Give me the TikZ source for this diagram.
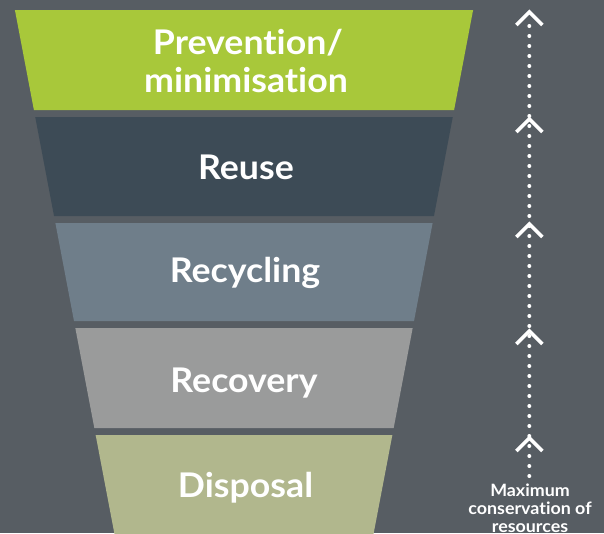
\documentclass[tikz,border=0pt]{standalone}
\usepackage{fontspec}
\setmainfont{Lato}[FakeStretch=1.05, Ligatures=CommonOff]
\definecolor{bgc}{HTML}{575D63}
\definecolor{c1}{HTML}{A8C83A}
\definecolor{c2}{HTML}{3D4B56}
\definecolor{c3}{HTML}{6F7E8A}
\definecolor{c4}{HTML}{9A9B9B}
\definecolor{c5}{HTML}{B1B78D}
\tikzset{
  band/.style={fill=#1, draw=none},
  lbl/.style={text=white, font=\fontsize{34}{38}\selectfont\bfseries, anchor=base, inner sep=0pt},
  chev/.style={draw=white, line width=3.6pt, line cap=butt, line join=miter},
  dotline/.style={draw=white, line width=4pt, line cap=round, dash pattern=on 0pt off 10pt},
  note/.style={text=white, font=\fontsize{17}{18}\selectfont\bfseries, align=center, anchor=base, inner sep=0pt}
}
\newcommand{\lx}[1]{13+0.19*#1}
\newcommand{\rx}[1]{475-0.19*#1}
\begin{document}
\begin{tikzpicture}[x=1pt,y=-1pt]
\fill[bgc] (0,0) rectangle (604,533);
\useasboundingbox (0,0) rectangle (604,533);
% bands
\foreach \t/\b/\c in {10/110/c1, 117/216/c2, 223/321/c3, 328/428/c4, 435/540/c5}{
  \fill[band=\c] ({\lx{\t}},\t) -- ({\rx{\t}},\t) -- ({\rx{\b}},\b) -- ({\lx{\b}},\b) -- cycle;
}
\node[lbl] (p1) at (248,54) {Prevention/};
\node[lbl] (p2) at (246,92) {minimisation};
\node[lbl] (reuse) at (246,179) {Reuse};
\node[lbl] (recyc) at (245,282) {Recycling};
\node[lbl] (recov) at (244,392) {Recovery};
\node[lbl] (disp) at (245.5,497) {Disposal};
% arrow
\coordinate (bot) at (529.3,476);
\coordinate (top) at (529.3,16);
\draw[dotline] (bot) -- (top);
\foreach \y in {12,119,224,331,438}{
  \draw[chev] (516.3,\y+13) -- (529.3,\y) -- (542.3,\y+13);
}
\node[note] (n1) at (530,496) {Maximum};
\node[note] (n2) at (530,514) {conservation of};
\node[note] (n3) at (530,532) {resources};
\end{tikzpicture}
\end{document}
